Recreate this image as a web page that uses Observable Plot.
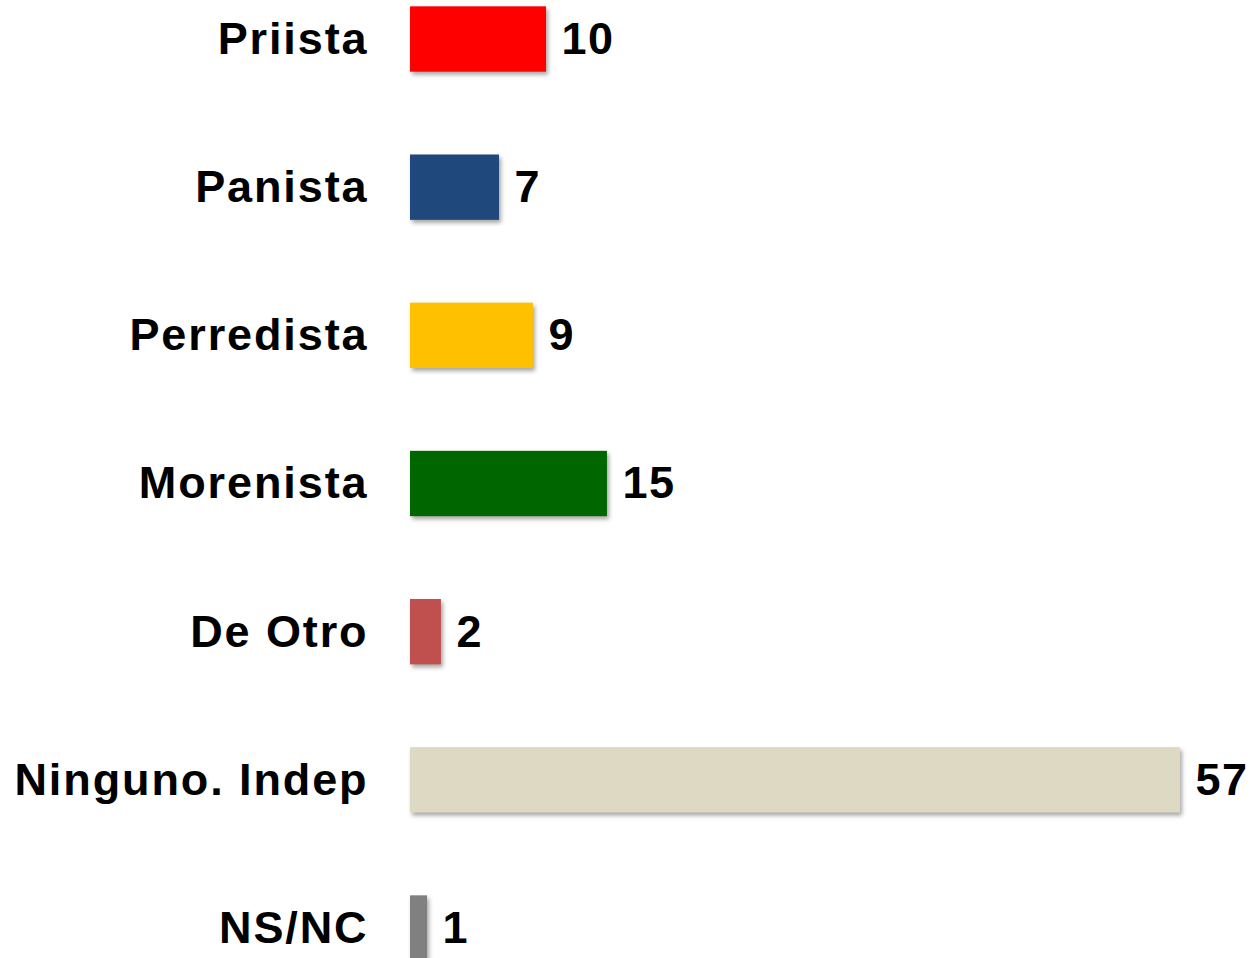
<!DOCTYPE html>
<html>
<head>
<meta charset="utf-8">
<script src="https://cdn.jsdelivr.net/npm/d3@7"></script>
<script src="https://cdn.jsdelivr.net/npm/@observablehq/plot@0.6"></script>
<style>
  html, body { margin: 0; padding: 0; background: #fff; overflow: hidden; }
  #chart svg { overflow: hidden; }
  .bars rect { filter: drop-shadow(2px 3px 2px rgba(0,0,0,0.35)); }
  .ylab text { letter-spacing: 1.9px; }
  .vlab text { letter-spacing: 1.5px; }
</style>
</head>
<body>
<div id="chart"></div>
<script>
const categories = ["Priista", "Panista", "Perredista", "Morenista", "De Otro", "Ninguno. Indep", "NS/NC"];
const values = [10.07, 6.59, 9.1, 14.58, 2.29, 57, 1.26];
const labels = ["10", "7", "9", "15", "2", "57", "1"];
const colors = ["#FF0000", "#1F497D", "#FFC000", "#006600", "#C0504D", "#DDD9C3", "#808080"];

const data = categories.map((c, i) => ({cat: c, value: values[i], label: labels[i], color: colors[i]}));

const font = "'Liberation Sans', Arial, sans-serif";

const chart = Plot.plot({
  width: 1250,
  height: 958,
  marginLeft: 410,
  marginRight: 70,
  marginTop: 0,
  marginBottom: 0,
  style: {fontFamily: font, fontWeight: "bold", background: "#fff", color: "#000"},
  x: {domain: [0, 57], axis: null},
  y: {domain: categories, range: [-76.5, 1043.5], padding: 0.559, round: false, label: null},
  marks: [
    Plot.axisY({tickSize: 0, tickPadding: 42, fontSize: 45, label: null, fill: "#000", className: "ylab"}),
    Plot.barX(data, {x: "value", y: "cat", fill: "color", className: "bars"}),
    Plot.text(data, {x: "value", y: "cat", text: "label", textAnchor: "start", dx: 15, fontSize: 45, fill: "#000", className: "vlab"})
  ]
});
document.getElementById("chart").appendChild(chart);
</script>
</body>
</html>
